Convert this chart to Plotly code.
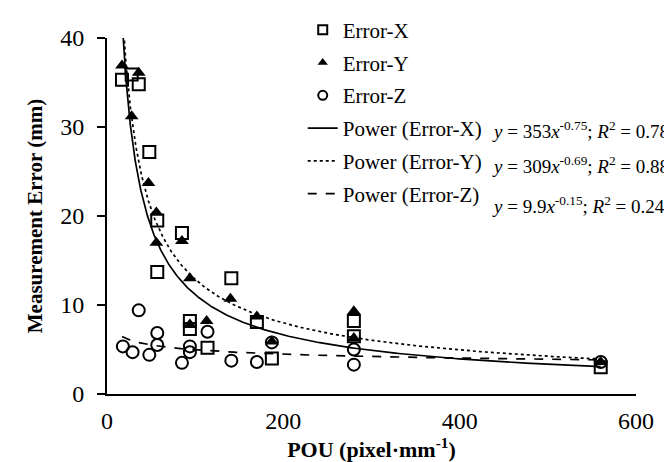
import numpy as np
import plotly.graph_objects as go

# Error-X (open squares)
ex_x = [17, 28, 36, 48, 57, 57, 85, 94, 94, 114, 141, 170, 187, 280, 280, 560]
ex_y = [35.3, 35.9, 34.8, 27.2, 19.5, 13.7, 18.1, 8.2, 7.3, 5.2, 13.0, 8.1, 4.0, 8.2, 6.5, 3.0]
# Error-Y (filled triangles)
ey_x = [17, 28, 36, 47, 56, 56, 85, 94, 94, 113, 140, 170, 187, 280, 280, 560]
ey_y = [36.9, 31.2, 36.1, 23.7, 20.4, 17.0, 17.2, 13.0, 7.8, 8.2, 10.7, 8.7, 5.9, 9.3, 6.3, 3.6]
# Error-Z (open circles)
ez_x = [18, 29, 36, 48, 57, 57, 85, 94, 94, 114, 141, 170, 187, 280, 280, 560]
ez_y = [5.35, 4.7, 9.4, 4.4, 6.85, 5.5, 3.5, 5.35, 4.7, 7.0, 3.75, 3.6, 5.8, 5.0, 3.3, 3.6]

series_names = ["Error-X", "Error-Y", "Error-Z"]

# Power trendlines from the chart's equations: y = a * x^b
fit_names = ["Power (Error-X)", "Power (Error-Y)", "Power (Error-Z)"]
fit_a = [353, 309, 9.9]
fit_b = [-0.75, -0.69, -0.15]
fit_r2 = ["0.78", "0.88", "0.24"]
fit_dash = ["solid", "dot", "dash"]
fit_xmin, fit_xmax = 17, 560

x_ticks = [0, 200, 400, 600]
y_ticks = [0, 10, 20, 30, 40]

FONT = "Liberation Serif"

marker_styles = [
    dict(symbol="square-open", color="black", line=dict(width=2, color="black")),
    dict(symbol="triangle-up", color="black"),
    dict(symbol="circle-open", color="black", line=dict(width=2, color="black")),
]

fig = go.Figure()
for i, (name, xs_, ys_, ms) in enumerate(zip(series_names, [ex_x, ey_x, ez_x],
                                             [ex_y, ey_y, ez_y], marker_styles)):
    fig.add_trace(go.Scatter(x=xs_, y=ys_, mode="markers", name=name, showlegend=False,
                             marker=dict(size=12, **ms)))
    # legend entry with a smaller symbol, as in the reference
    fig.add_trace(go.Scatter(x=[None], y=[None], mode="markers", name=name,
                             legendgroup=f"s{i}", legendrank=i + 1,
                             marker=dict(size=9, **ms)))

xs = np.geomspace(fit_xmin, fit_xmax, 300)
for i, (name, a, b, d) in enumerate(zip(fit_names, fit_a, fit_b, fit_dash)):
    fig.add_trace(go.Scatter(x=xs, y=a * xs ** b, mode="lines", name=name,
                             legendgroup=f"f{i}", legendrank=10 + i,
                             line=dict(color="black", width=1.7, dash=d)))

eq_y = [0.742, 0.643, 0.531]
for a, b, r2, yy in zip(fit_a, fit_b, fit_r2, eq_y):
    fig.add_annotation(xref="paper", yref="paper", x=0.724, y=yy, xanchor="left",
                       yanchor="middle", showarrow=False,
                       text=f"<i>y</i> = {a:g}<i>x</i><sup>{b:.2f}</sup>; <i>R</i><sup>2</sup> = {r2}",
                       font=dict(family=FONT, size=19, color="black"))

fig.update_layout(
    width=672, height=462,
    margin=dict(l=99, r=44, t=30, b=76, autoexpand=False),
    paper_bgcolor="white", plot_bgcolor="white",
    font=dict(family=FONT, color="black", size=21),
    showlegend=True,
    legend=dict(x=0.37, y=1.08, xanchor="left", yanchor="top",
                bgcolor="rgba(0,0,0,0)", font=dict(family=FONT, size=21),
                tracegroupgap=2.5),
    xaxis=dict(range=[0, 600], tickvals=x_ticks, ticks="", showgrid=False,
               zeroline=False, showline=True, linecolor="black", linewidth=2,
               tickfont=dict(size=24), automargin=False, ticklabelstandoff=4,
               title=dict(text="<b>POU (pixel·mm<sup>-1</sup>)</b>", font=dict(size=22), standoff=6)),
    yaxis=dict(range=[0, 40], tickvals=y_ticks, ticks="outside", ticklen=8,
               tickwidth=2, tickcolor="black", showgrid=False, zeroline=False,
               showline=True, linecolor="black", linewidth=2,
               tickfont=dict(size=24), automargin=False, ticklabelstandoff=8,
               title=dict(text="<b>Measurement Error (mm)</b>", font=dict(size=21), standoff=12)),
)

fig.write_html("out.html")
